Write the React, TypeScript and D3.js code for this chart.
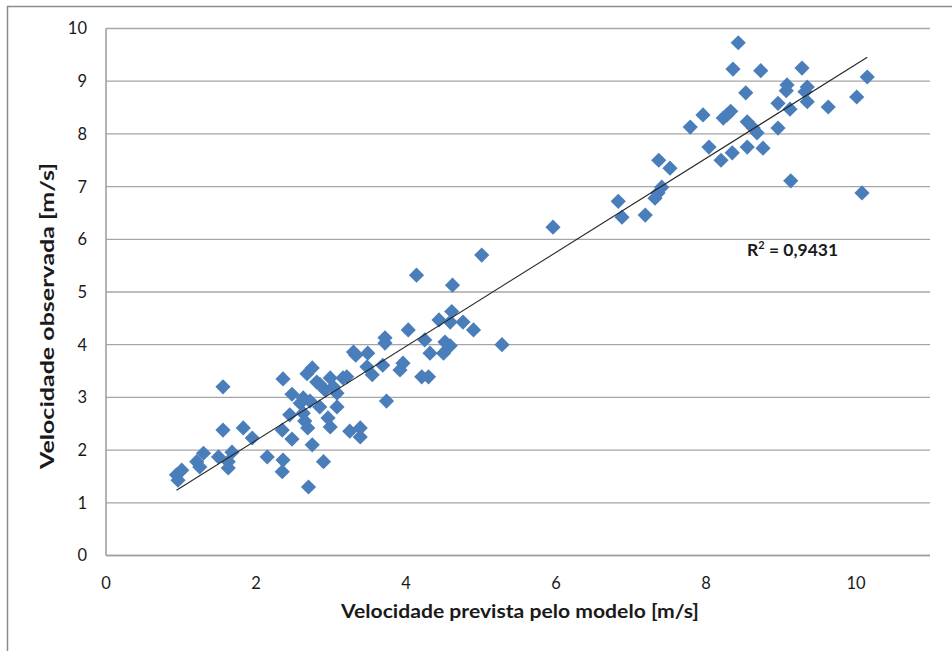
import React from "react";
import * as d3 from "d3";

const predicted = [
  0.94, 0.96, 1.01, 1.21, 1.25, 1.3, 1.5, 1.56, 1.56, 1.63, 1.63, 1.68, 1.83, 1.95, 2.15, 2.35, 2.36, 2.35, 2.36, 2.45,
  2.48, 2.48, 2.59, 2.63, 2.63, 2.65, 2.69, 2.7, 2.72, 2.68, 2.75, 2.75, 2.81, 2.85, 2.85, 2.9, 2.92, 2.96, 2.99, 2.99,
  3.03, 3.08, 3.08, 3.16, 3.21, 3.25, 3.3, 3.33, 3.39, 3.39, 3.48, 3.49, 3.55, 3.69, 3.72, 3.72, 3.74, 3.92, 3.96, 4.03,
  4.14, 4.21, 4.25, 4.3, 4.32, 4.44, 4.5, 4.52, 4.59, 4.59, 4.61, 4.62, 4.76, 4.9, 5.01, 5.28, 5.96, 6.83, 6.88, 7.19,
  7.32, 7.36, 7.41, 7.37, 7.52, 7.79, 7.96, 8.04, 8.2, 8.23, 8.28, 8.33, 8.35, 8.36, 8.43, 8.53, 8.55, 8.55, 8.63, 8.68,
  8.73, 8.76, 8.96, 8.96, 9.07, 9.08, 9.12, 9.13, 9.28, 9.32, 9.35, 9.35, 9.63, 10.01, 10.08, 10.15,
];
const observed = [
  1.53, 1.43, 1.62, 1.78, 1.68, 1.94, 1.87, 3.2, 2.38, 1.78, 1.66, 1.96, 2.42, 2.23, 1.87, 1.59, 1.81, 2.38, 3.35, 2.67,
  2.21, 3.06, 2.89, 2.99, 2.7, 2.55, 2.42, 1.3, 2.93, 3.45, 3.56, 2.1, 3.29, 3.25, 2.82, 1.78, 3.14, 2.61, 3.37, 2.44,
  3.2, 3.08, 2.82, 3.37, 3.39, 2.36, 3.86, 3.8, 2.42, 2.25, 3.58, 3.84, 3.43, 3.61, 4.13, 4.03, 2.93, 3.52, 3.65, 4.28,
  5.32, 3.39, 4.09, 3.39, 3.84, 4.47, 3.84, 4.05, 3.98, 4.43, 4.63, 5.13, 4.43, 4.28, 5.7, 4.0, 6.23, 6.72, 6.42, 6.46,
  6.78, 6.88, 6.99, 7.5, 7.35, 8.13, 8.36, 7.75, 7.5, 8.3, 8.36, 8.43, 7.64, 9.23, 9.73, 8.78, 8.23, 7.75, 8.11, 8.02,
  9.2, 7.73, 8.58, 8.11, 8.82, 8.93, 8.47, 7.11, 9.25, 8.8, 8.89, 8.61, 8.51, 8.7, 6.88, 9.08,
];

const xTicks = [0, 2, 4, 6, 8, 10];
const yTicks = [0, 1, 2, 3, 4, 5, 6, 7, 8, 9, 10];
const trendSlope = 0.892;
const trendIntercept = 0.4;
const r2Label = "0,9431";
const xTitle = "Velocidade prevista pelo modelo [m/s]";
const yTitle = "Velocidade observada [m/s]";

const W = 952;
const H = 651;
const left = 106;
const right = 931;
const top = 28.5;
const bottom = 555.5;

export default function App() {
  const x = d3.scaleLinear().domain([0, 11]).range([left, right]);
  const y = d3.scaleLinear().domain([0, 10]).range([bottom, top]);
  const pts = predicted.map((p, i) => [p, observed[i]] as [number, number]);
  const xMin = d3.min(predicted) as number;
  const xMax = d3.max(predicted) as number;
  const line = d3
    .line<number>()
    .x((d) => x(d))
    .y((d) => y(trendSlope * d + trendIntercept));
  const diamond = (cx: number, cy: number) => {
    const r = 7.6;
    return `M${cx},${cy - r}L${cx + r},${cy}L${cx},${cy + r}L${cx - r},${cy}Z`;
  };
  const font = "Lato, 'Open Sans', sans-serif";
  return (
    <svg
      width={W}
      height={H}
      style={{ position: "absolute", left: 0, top: 0, display: "block", background: "#fff" }}
    >
      <rect x={7.5} y={6.5} width={W + 10} height={H + 10} fill="#fff" stroke="#8c8c8c" strokeWidth={1.5} />
      {yTicks.map((t) => (
        <line key={"g" + t} x1={left} x2={right - 1} y1={y(t)} y2={y(t)} stroke="#a6a6a6" strokeWidth={1.3} />
      ))}
      <line x1={left} x2={left} y1={top} y2={bottom} stroke="#a0a0a0" strokeWidth={1.6} />
      <line x1={left} x2={right - 1} y1={bottom} y2={bottom} stroke="#a0a0a0" strokeWidth={1.6} />
      {yTicks.map((t) => (
        <text key={"yl" + t} x={87} y={y(t)} dy="0.36em" textAnchor="end" fontFamily={font} fontSize={16.5} fill="#1a1a1a">
          {t}
        </text>
      ))}
      {xTicks.map((t) => (
        <text key={"xl" + t} x={x(t)} y={583} dy="0.36em" textAnchor="middle" fontFamily={font} fontSize={16.5} fill="#1a1a1a">
          {t}
        </text>
      ))}
      {pts.map(([px, py], i) => (
        <path key={"p" + i} d={diamond(x(px), y(py))} fill="#4a7ebb" />
      ))}
      <path d={line([xMin, xMax]) || ""} stroke="#262626" strokeWidth={1.1} fill="none" />
      <text x={747} y={256} fontFamily={font} fontSize={17.5} fontWeight="bold" fill="#1a1a1a">
        R<tspan fontSize={11} dy={-7}>2</tspan>
        <tspan dy={7}>{" = " + r2Label}</tspan>
      </text>
      <text
        x={520}
        y={618}
        textAnchor="middle"
        fontFamily={font}
        fontSize={18}
        fontWeight="bold"
        fill="#1a1a1a"
        textLength={358}
        lengthAdjust="spacingAndGlyphs"
      >
        {xTitle}
      </text>
      <text
        transform={`translate(54,316) rotate(-90)`}
        textAnchor="middle"
        fontFamily={font}
        fontSize={18}
        fontWeight="bold"
        fill="#1a1a1a"
        textLength={306}
        lengthAdjust="spacingAndGlyphs"
      >
        {yTitle}
      </text>
    </svg>
  );
}
